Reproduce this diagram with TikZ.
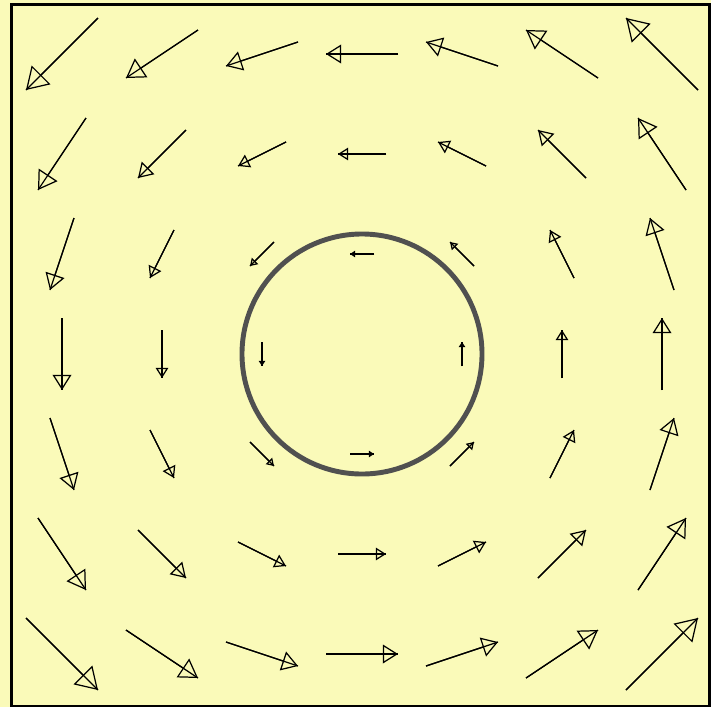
\documentclass[tikz,border=0pt]{standalone}
\usepackage{tikz}
\usetikzlibrary{arrows.meta}
\definecolor{paper}{RGB}{250,250,185}
\definecolor{rim}{RGB}{80,80,80}
\tikzset{
    field arrow/.style={black,line width=.35pt},
    boundary/.style={draw=rim,line width=1.4pt},
    frame/.style={draw=black,line width=.7pt}
}
\begin{document}
\begin{tikzpicture}
\fill[paper] (-3.62,-3.53) rectangle (3.49,3.54);
\useasboundingbox (-3.62,-3.53) rectangle (3.49,3.54);
\draw[frame] (-3.507,-3.518) rectangle (3.475,3.497);
\draw[boundary] (0,0) circle (1.2);
% rotating field, arrow length grows with radius
\foreach \i in {-3,...,3}
  \foreach \j in {-3,...,3} {
    \pgfmathsetmacro\len{0.24*sqrt(\i*\i+\j*\j)}
    \pgfmathsetmacro\hl{0.21*\len}
    \pgfmathsetmacro\hw{0.26*\len}
    \ifdim\len pt>0pt
      \coordinate (tail) at ({\i+0.12*\j},{\j-0.12*\i});
      \coordinate (tip) at ({\i-0.12*\j},{\j+0.12*\i});
      \draw[field arrow] (tail) -- (tip);
      \draw[field arrow,-{Triangle[open,length=\hl cm,width=\hw cm]}] (tail) -- (tip);
    \fi
  }
\end{tikzpicture}
\end{document}
